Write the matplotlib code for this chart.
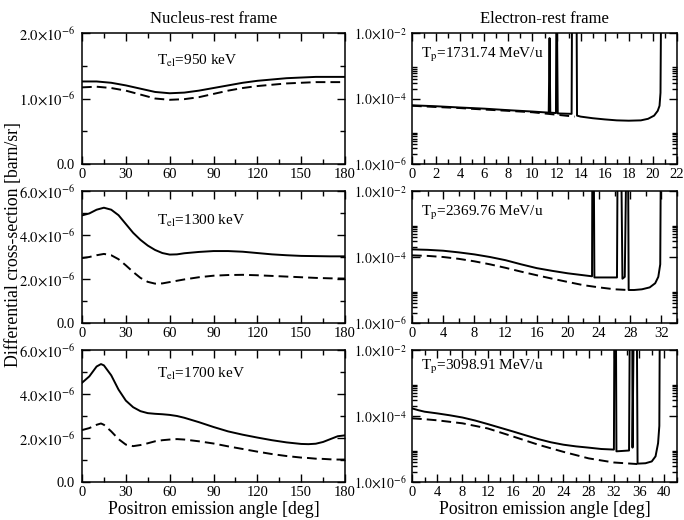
import matplotlib
matplotlib.use("Agg")
import matplotlib.pyplot as plt
import matplotlib.ticker as ticker

plt.rcParams['font.family'] = ['Liberation Serif', 'DejaVu Serif']
plt.rcParams['mathtext.fontset'] = 'stix'

# ---- nucleus-rest frame (left column), cross-section in units of 1e-6 barn/sr
ang_950 = [0, 10, 20, 30, 40, 50, 60, 70, 80, 90, 100, 110, 120, 130, 140, 150, 160, 170, 180]
full_950 = [1.26, 1.26, 1.24, 1.20, 1.15, 1.10, 1.08, 1.09, 1.12, 1.16, 1.20, 1.24, 1.27, 1.29, 1.31, 1.32, 1.33, 1.33, 1.33]
appr_950 = [1.17, 1.18, 1.16, 1.12, 1.06, 1.00, 0.98, 0.99, 1.02, 1.07, 1.12, 1.16, 1.19, 1.21, 1.23, 1.24, 1.25, 1.25, 1.25]

ang_1300 = [0, 5, 10, 15, 20, 25, 30, 35, 40, 45, 50, 55, 60, 65, 70, 80, 90, 100, 110, 120, 130, 140, 150, 160, 170, 180]
full_1300 = [4.89, 4.98, 5.15, 5.24, 5.15, 4.90, 4.50, 4.10, 3.78, 3.52, 3.32, 3.18, 3.11, 3.12, 3.17, 3.23, 3.27, 3.27, 3.24, 3.18, 3.12, 3.08, 3.05, 3.04, 3.03, 3.03]
appr_1300 = [2.95, 3.00, 3.08, 3.14, 3.08, 2.90, 2.62, 2.32, 2.05, 1.87, 1.79, 1.80, 1.86, 1.92, 1.98, 2.08, 2.15, 2.18, 2.19, 2.17, 2.14, 2.11, 2.08, 2.05, 2.03, 2.02]

ang_1700 = [0, 5, 10, 13, 15, 20, 25, 30, 35, 40, 45, 50, 55, 60, 65, 70, 80, 90, 100, 110, 120, 130, 140, 150, 155, 160, 165, 170, 175, 180]
full_1700 = [4.51, 4.80, 5.25, 5.36, 5.30, 4.85, 4.20, 3.70, 3.40, 3.22, 3.13, 3.10, 3.08, 3.05, 3.00, 2.92, 2.72, 2.50, 2.30, 2.15, 2.02, 1.90, 1.80, 1.73, 1.72, 1.74, 1.82, 1.95, 2.08, 2.12]
appr_1700 = [2.36, 2.45, 2.60, 2.66, 2.60, 2.30, 1.95, 1.70, 1.63, 1.68, 1.76, 1.85, 1.90, 1.93, 1.95, 1.93, 1.85, 1.75, 1.62, 1.50, 1.38, 1.27, 1.18, 1.11, 1.09, 1.06, 1.05, 1.03, 1.02, 1.02]

# ---- electron-rest frame (right column), barn/sr ; 1.0 marks resonance spikes running off scale
ang_p1 = [0, 2, 4, 6, 8, 10, 11.35, 11.42, 11.48, 11.95, 12.0, 12.1, 13.25, 13.3, 13.65, 13.7, 14, 15, 16, 17, 18, 19, 19.6, 20.1, 20.4, 20.55, 20.63, 20.7]
full_p1 = [6.2e-5, 5.8e-5, 5.3e-5, 4.9e-5, 4.4e-5, 4.0e-5, 3.7e-5, 7e-3, 3.7e-5, 3.6e-5, 1.0, 3.5e-5, 3.4e-5, 1.0, 1.0, 3.0e-5, 2.8e-5, 2.5e-5, 2.3e-5, 2.15e-5, 2.1e-5, 2.15e-5, 2.4e-5, 3.0e-5, 4.2e-5, 6e-5, 1.5e-4, 1.0]
ang_d1 = [0, 2, 4, 6, 8, 10, 12, 13.5]
appr_p1 = [6.0e-5, 5.5e-5, 5.1e-5, 4.6e-5, 4.2e-5, 3.8e-5, 3.2e-5, 2.8e-5]

ang_p2 = [0, 2, 4, 6, 8, 10, 12, 14, 16, 18, 20, 22, 23.1, 23.15, 23.3, 23.4, 26.3, 26.4, 26.8, 27.0, 27.3, 27.55, 27.7, 27.8, 28.5, 29.5, 30.5, 31.2, 31.6, 31.85, 31.95]
full_p2 = [1.7e-4, 1.65e-4, 1.55e-4, 1.38e-4, 1.2e-4, 1.0e-4, 8e-5, 6e-5, 4.6e-5, 3.8e-5, 3.2e-5, 2.8e-5, 2.6e-5, 1.0, 1.0, 2.4e-5, 2.4e-5, 1.0, 1.0, 2.2e-5, 2.5e-5, 1.0, 1.0, 1.0e-5, 1.0e-5, 1.05e-5, 1.2e-5, 1.6e-5, 2.5e-5, 6e-5, 1.0]
ang_d2 = [0, 2, 4, 6, 8, 10, 12, 14, 16, 18, 20, 22, 24, 26, 27.7]
appr_p2 = [1.12e-4, 1.08e-4, 1.0e-4, 8.8e-5, 7.4e-5, 6e-5, 4.7e-5, 3.6e-5, 2.8e-5, 2.2e-5, 1.75e-5, 1.4e-5, 1.2e-5, 1.05e-5, 1.0e-5]

ang_p3 = [0, 1, 2, 4, 6, 8, 10, 12, 14, 16, 18, 20, 22, 24, 26, 28, 30, 32, 32.1, 32.3, 32.4, 34.4, 34.55, 34.9, 34.95, 35.2, 35.6, 35.75, 37, 38, 38.6, 39.0, 39.2, 39.3]
full_p3 = [1.7e-4, 1.5e-4, 1.35e-4, 1.2e-4, 1.05e-4, 9e-5, 7.3e-5, 5.7e-5, 4.4e-5, 3.4e-5, 2.6e-5, 2.0e-5, 1.6e-5, 1.35e-5, 1.2e-5, 1.1e-5, 1.0e-5, 9.6e-6, 1.0, 1.0, 8.5e-6, 9e-6, 1.0, 1.0, 1.1e-5, 1.0, 1.0, 3.6e-6, 3.7e-6, 4.2e-6, 6e-6, 1.5e-5, 5e-5, 1.0]
ang_d3 = [0, 2, 4, 8, 12, 16, 20, 24, 28, 32, 35.7]
appr_p3 = [8.5e-5, 8.0e-5, 7.4e-5, 6e-5, 4.2e-5, 2.4e-5, 1.35e-5, 8.2e-6, 5.2e-6, 3.9e-6, 3.5e-6]

labels_el = ["950", "1300", "1700"]
labels_p = ["1731.74", "2369.76", "3098.91"]
xmax_p = [22, 34, 42]

W, H = 684, 520
fig = plt.figure(figsize=(W / 100, H / 100), dpi=100)

rows_px = [(33, 164), (191, 323), (350, 482)]
left_px = (82, 345)
right_px = (412, 677)

def px_axes(xr, yr):
    return fig.add_axes([xr[0] / W, 1 - yr[1] / H, (xr[1] - xr[0]) / W, (yr[1] - yr[0]) / H])

def style(ax):
    ax.tick_params(which='both', direction='in', top=True, right=True, labelsize=10.5, width=1.0)
    ax.tick_params(which='major', length=6)
    ax.tick_params(which='minor', length=3.5)
    ax.tick_params(axis='y', which='major', pad=5)
    ax.tick_params(axis='x', which='major', pad=3)
    for s in ax.spines.values():
        s.set_linewidth(1.1)

def lin_fmt(v, pos):
    if abs(v) < 1e-12:
        return "0.0"
    return r"$%.1f{\times}10^{-6}$" % (v)

def log_fmt(v, pos):
    import math
    e = int(round(math.log10(v)))
    return r"$1.0{\times}10^{%d}$" % e

dash = (0, (5, 2.6))
left_data = [(ang_950, full_950, appr_950), (ang_1300, full_1300, appr_1300), (ang_1700, full_1700, appr_1700)]
right_data = [(ang_p1, full_p1, ang_d1, appr_p1), (ang_p2, full_p2, ang_d2, appr_p2), (ang_p3, full_p3, ang_d3, appr_p3)]
ymax_left = [2.0, 6.0, 6.0]
text_y_left = [0.79, 0.77, 0.82]
text_y_right = [0.83, 0.83, 0.87]

for i in range(3):
    # left column
    ax = px_axes(left_px, rows_px[i])
    a, f, d = left_data[i]
    ax.plot(a, f, color='black', lw=1.4)
    ax.plot(a, d, color='black', lw=1.4, linestyle=dash)
    ax.set_xlim(0, 180)
    ax.set_ylim(0, ymax_left[i])
    ax.xaxis.set_major_locator(ticker.MultipleLocator(30))
    ax.xaxis.set_minor_locator(ticker.MultipleLocator(15))
    step = 1.0 if i == 0 else 2.0
    ax.yaxis.set_major_locator(ticker.MultipleLocator(step))
    ax.yaxis.set_minor_locator(ticker.MultipleLocator(step / 2))
    ax.yaxis.set_major_formatter(ticker.FuncFormatter(lin_fmt))
    style(ax)
    ax.text(0.285, text_y_left[i], r"T$_{\mathrm{el}}$=" + labels_el[i] + " keV",
            transform=ax.transAxes, fontsize=11, va='center')
    if i == 0:
        ax.set_title("Nucleus-rest frame", fontsize=12, pad=7)
    if i == 2:
        ax.set_xlabel("Positron emission angle [deg]", fontsize=12.8, labelpad=1)

    # right column
    ax = px_axes(right_px, rows_px[i])
    a, f, ad, d = right_data[i]
    ax.plot(a, f, color='black', lw=1.4)
    ax.plot(ad, d, color='black', lw=1.4, linestyle=dash)
    ax.set_yscale('log')
    ax.set_xlim(0, xmax_p[i])
    ax.set_ylim(1e-6, 1e-2)
    ax.yaxis.set_major_locator(ticker.FixedLocator([1e-6, 1e-4, 1e-2]))
    minors = [k * 1e-6 for k in range(2, 10)] + [k * 1e-4 for k in range(2, 10)]
    ax.yaxis.set_minor_locator(ticker.FixedLocator(minors))
    ax.yaxis.set_minor_formatter(ticker.NullFormatter())
    ax.yaxis.set_major_formatter(ticker.FuncFormatter(log_fmt))
    if i == 0:
        ax.xaxis.set_major_locator(ticker.MultipleLocator(2))
        ax.xaxis.set_minor_locator(ticker.MultipleLocator(1))
    else:
        ax.xaxis.set_major_locator(ticker.MultipleLocator(4))
        ax.xaxis.set_minor_locator(ticker.MultipleLocator(2))
    style(ax)
    ax.tick_params(axis='y', which='major', labelsize=9.8, pad=4)
    ax.text(0.035, text_y_right[i], r"T$_{\mathrm{p}}$=" + labels_p[i] + " MeV/u",
            transform=ax.transAxes, fontsize=11, va='center')
    if i == 0:
        ax.set_title("Electron-rest frame", fontsize=12, pad=7)
    if i == 2:
        ax.set_xlabel("Positron emission angle [deg]", fontsize=12.8, labelpad=1)

fig.text(0.02, 0.53, "Differential cross-section [barn/sr]", rotation=90,
         fontsize=12.8, ha='center', va='center')

fig.savefig("out.png", dpi=100)
